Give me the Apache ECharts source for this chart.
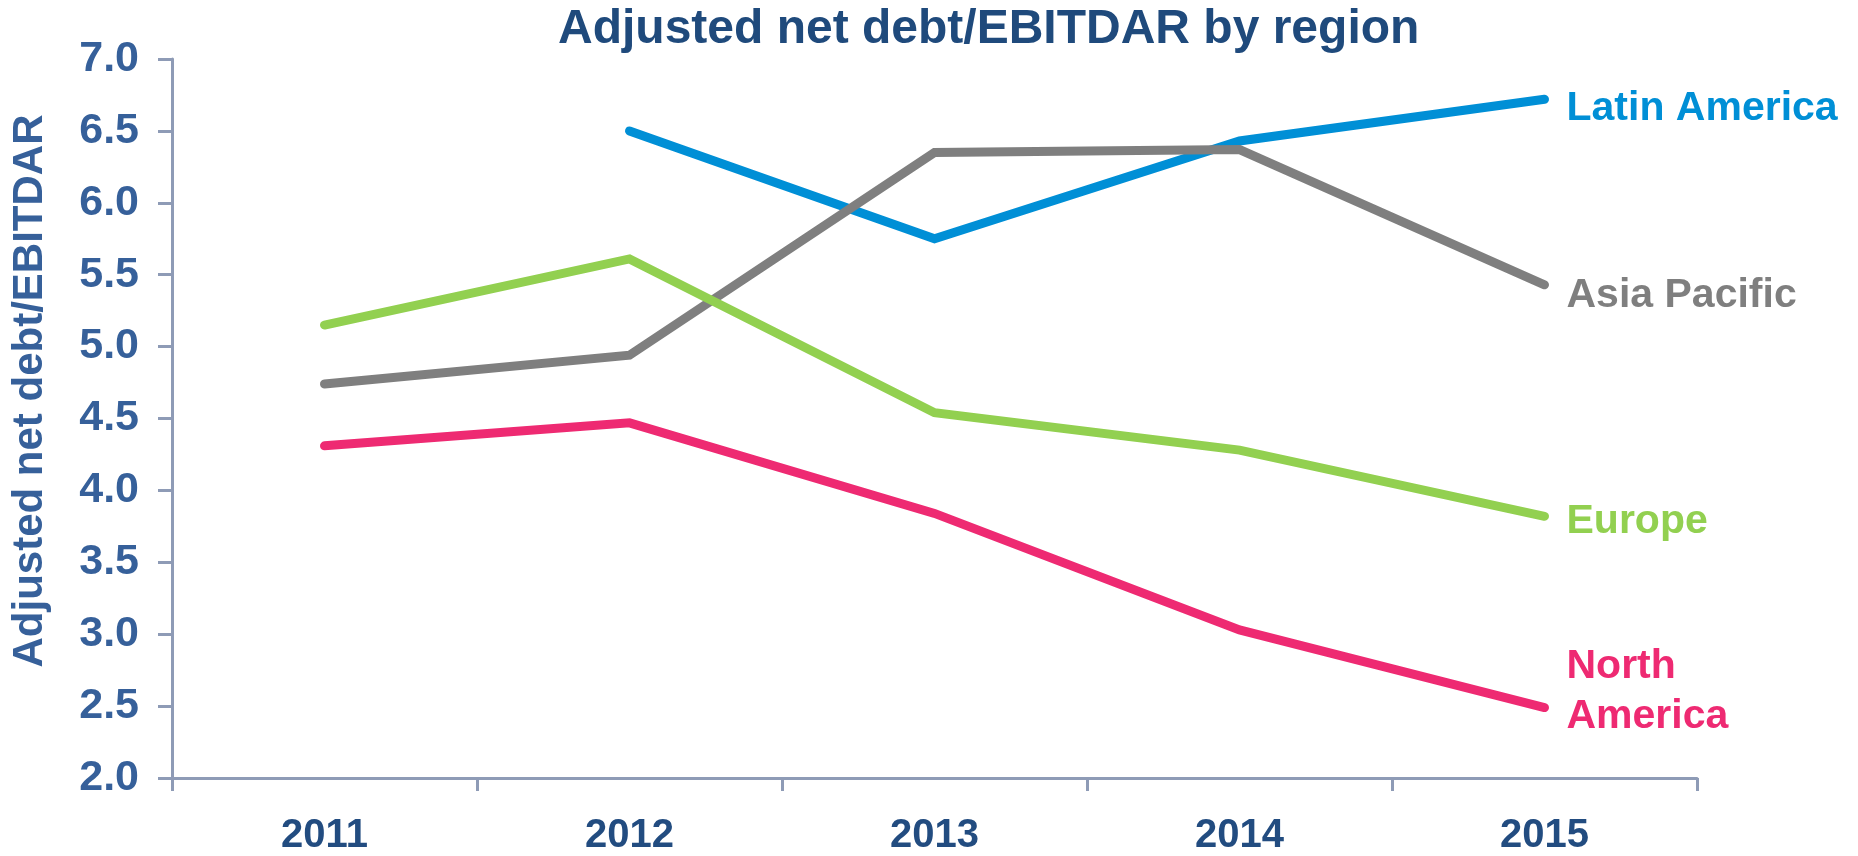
<!DOCTYPE html>
<html>
<head>
<meta charset="utf-8">
<script src="https://cdn.jsdelivr.net/npm/echarts@6/dist/echarts.min.js"></script>
<style>
  html, body { margin: 0; padding: 0; background: #fff; }
  #chart { width: 1858px; height: 856px; }
</style>
</head>
<body>
<div id="chart"></div>
<script>
// values
var years = ['2011', '2012', '2013', '2014', '2015'];
var latinAmerica = [null, 6.50, 5.75, 6.43, 6.72];
var asiaPacific = [4.74, 4.94, 6.35, 6.37, 5.43];
var europe = [5.15, 5.61, 4.54, 4.28, 3.82];
var northAmerica = [4.31, 4.47, 3.84, 3.03, 2.49];

var FONT = '"Liberation Sans", Arial, sans-serif';
var AXIS_COLOR = '#8E9BB6';
var LABEL_COLOR = '#36609A';

function lineSeries(name, data, color, labelText, offset) {
  return {
    name: name,
    type: 'line',
    data: data,
    symbol: 'none',
    connectNulls: false,
    lineStyle: { color: color, width: 9, cap: 'round', join: 'miter' },
    endLabel: {
      show: true,
      formatter: labelText,
      distance: 22,
      offset: offset,
      color: color,
      fontFamily: FONT,
      fontWeight: 'bold',
      fontSize: 41,
      lineHeight: 50,
      align: 'left'
    }
  };
}

var chart = echarts.init(document.getElementById('chart'), null, { renderer: 'canvas' });

var option = {
  animation: false,
  backgroundColor: '#ffffff',
  title: {
    text: 'Adjusted net debt/EBITDAR by region',
    left: 553,
    top: 1,
    textStyle: {
      fontFamily: FONT,
      fontWeight: 'bold',
      fontSize: 48,
      color: '#1F4A7C'
    }
  },
  grid: {
    left: 172,
    right: 161,
    top: 59,
    bottom: 73,
    containLabel: false
  },
  xAxis: {
    type: 'category',
    data: years,
    boundaryGap: true,
    axisLine: { show: true, lineStyle: { color: AXIS_COLOR, width: 3 } },
    axisTick: { show: true, length: 13, lineStyle: { color: AXIS_COLOR, width: 3 } },
    axisLabel: {
      margin: 38,
      fontFamily: FONT,
      fontWeight: 'bold',
      fontSize: 40,
      color: '#224C80'
    },
    splitLine: { show: false }
  },
  yAxis: {
    type: 'value',
    min: 2,
    max: 7,
    interval: 0.5,
    axisLine: { show: true, lineStyle: { color: AXIS_COLOR, width: 3 } },
    axisTick: { show: true, length: 14, lineStyle: { color: AXIS_COLOR, width: 3 } },
    axisLabel: {
      margin: 33,
      fontFamily: FONT,
      fontWeight: 'bold',
      fontSize: 43,
      color: LABEL_COLOR,
      formatter: function (v) { return v.toFixed(1); }
    },
    splitLine: { show: false }
  },
  graphic: [
    {
      type: 'text',
      x: 30,
      y: 391,
      rotation: Math.PI / 2,
      style: {
        text: 'Adjusted net debt/EBITDAR',
        fill: LABEL_COLOR,
        font: 'bold 42px ' + FONT,
        textAlign: 'center',
        textVerticalAlign: 'middle'
      }
    }
  ],
  series: [
    lineSeries('Latin America', latinAmerica, '#008FD6', 'Latin America', [0, 9]),
    lineSeries('Asia Pacific', asiaPacific, '#7F7F7F', 'Asia Pacific', [0, 11]),
    lineSeries('Europe', europe, '#92D050', 'Europe', [0, 5]),
    lineSeries('North America', northAmerica, '#EE2A72', 'North\nAmerica', [0, -16])
  ]
};

chart.setOption(option);
</script>
</body>
</html>
